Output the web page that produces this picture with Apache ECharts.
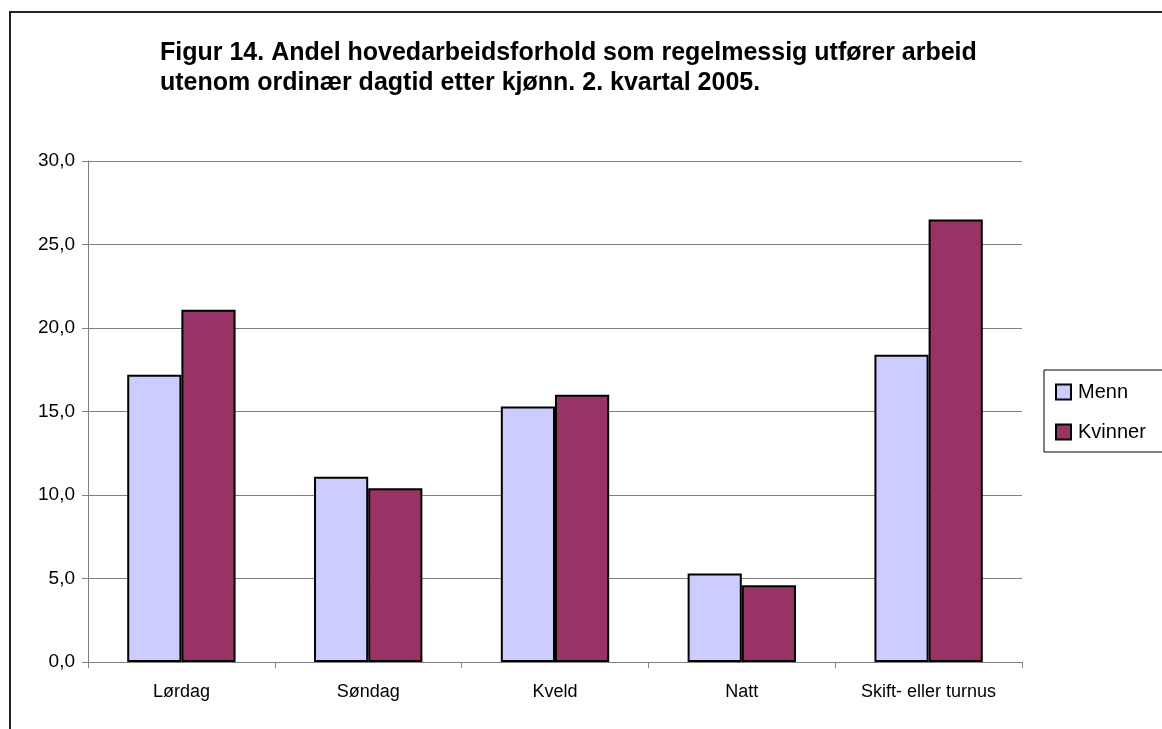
<!DOCTYPE html>
<html><head><meta charset="utf-8">
<script src="https://cdn.jsdelivr.net/npm/echarts@6/dist/echarts.min.js"></script>
<style>html,body{margin:0;padding:0;background:#fff}#c{width:1162px;height:729px}</style>
</head><body><div id="c"></div>
<script>
const categories = ['Lørdag', 'Søndag', 'Kveld', 'Natt', 'Skift- eller turnus'];
const menn = [17.2, 11.1, 15.3, 5.3, 18.4];
const kvinner = [21.1, 10.4, 16.0, 4.6, 26.5];
const titleLines = ['Figur 14. Andel hovedarbeidsforhold som regelmessig utfører arbeid', 'utenom ordinær dagtid etter kjønn. 2. kvartal 2005.'];
const font = 'Liberation Sans, Arial, sans-serif';
const chart = echarts.init(document.getElementById('c'));
chart.setOption({
  animation: false,
  backgroundColor: '#fff',
  title: {
    text: titleLines.join('\n'), left: 160, top: 38, padding: 0,
    textStyle: {fontFamily: font, fontSize: 25, fontWeight: 'bold', color: '#000', lineHeight: 30}
  },
  graphic: [{type: 'rect', shape: {x: 10, y: 12, width: 1200, height: 800}, style: {fill: 'none', stroke: '#222', lineWidth: 2}, z: -1}],
  legend: {
    orient: 'vertical', left: 1044, top: 370,
    itemWidth: 15, itemHeight: 15, itemGap: 20, icon: 'rect',
    borderColor: '#000', borderWidth: 1, padding: [12, 20, 10, 11],
    textStyle: {fontFamily: font, fontSize: 20, color: '#000', padding: [0, 0, 0, 2]},
    data: ['Menn', 'Kvinner']
  },
  grid: {left: 88, right: 140, top: 161, bottom: 67, containLabel: false},
  xAxis: {
    type: 'category', data: categories,
    axisLine: {lineStyle: {color: '#808080', width: 1}},
    axisTick: {show: true, length: 6, lineStyle: {color: '#808080'}, alignWithLabel: false},
    axisLabel: {fontFamily: font, fontSize: 18, color: '#000', margin: 21}
  },
  yAxis: {
    type: 'value', min: 0, max: 30, interval: 5,
    axisLine: {show: true, lineStyle: {color: '#808080', width: 1}},
    axisTick: {show: true, inside: false, length: 6, lineStyle: {color: '#808080'}},
    splitLine: {lineStyle: {color: '#808080', width: 1}},
    axisLabel: {fontFamily: font, fontSize: 19, color: '#000', margin: 13,
      formatter: v => v.toFixed(1).replace('.', ',')}
  },
  series: [
    {name: 'Menn', type: 'bar', data: menn, barGap: '0%', barCategoryGap: '42%',
     itemStyle: {color: '#CCCCFF', borderColor: '#000', borderWidth: 2}},
    {name: 'Kvinner', type: 'bar', data: kvinner,
     itemStyle: {color: '#993366', borderColor: '#000', borderWidth: 2}}
  ]
});
</script></body></html>
